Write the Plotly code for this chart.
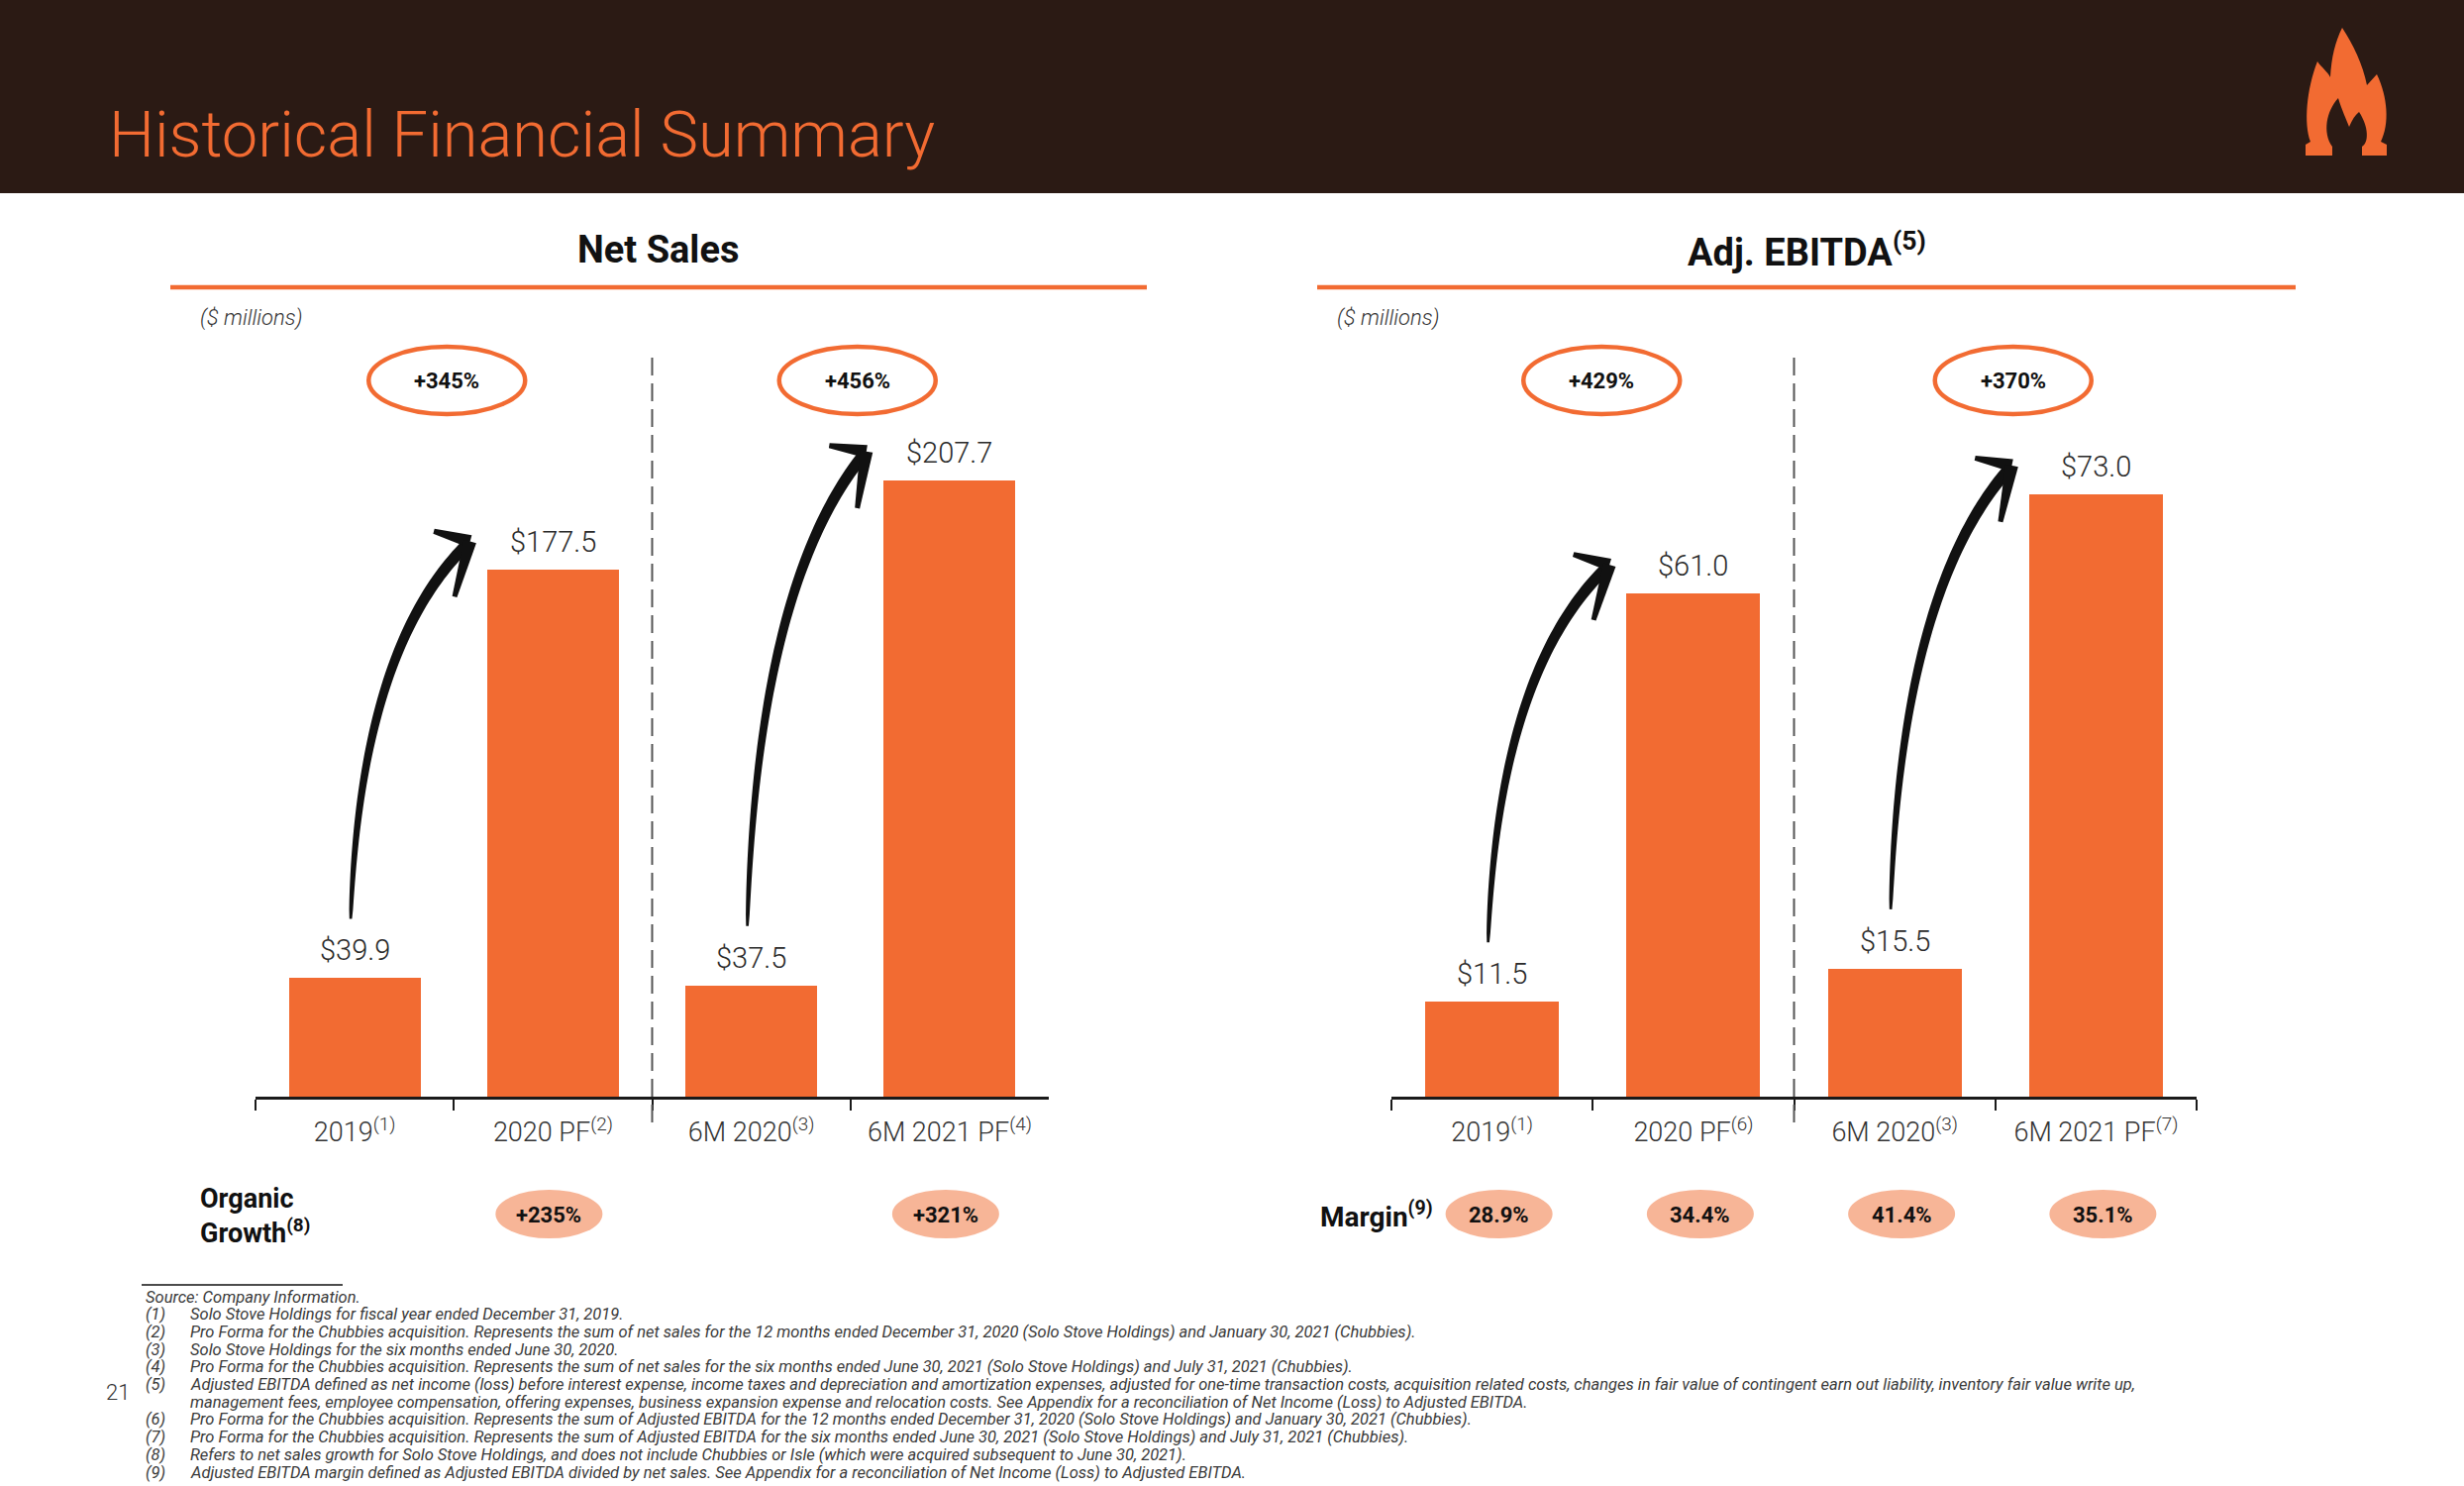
import numpy as np
import plotly.graph_objects as go

W, H = 2488, 1500

# ---------------- data ----------------
periods = ["2019", "2020 PF", "6M 2020", "6M 2021 PF"]
ns_notes = [1, 2, 3, 4]
eb_notes = [1, 6, 3, 7]
net_sales = [39.9, 177.5, 37.5, 207.7]
adj_ebitda = [11.5, 61.0, 15.5, 73.0]
ns_growth = [345, 456]          # 2019 -> 2020 PF, 6M 2020 -> 6M 2021 PF
eb_growth = [429, 370]
organic_growth = [None, 235, None, 321]
ebitda_margin = [28.9, 34.4, 41.4, 35.1]

footnotes = [
    ("", "Source: Company Information."),
    ("(1)", "Solo Stove Holdings for fiscal year ended December 31, 2019."),
    ("(2)", "Pro Forma for the Chubbies acquisition. Represents the sum of net sales for the 12 months ended December 31, 2020 (Solo Stove Holdings) and January 30, 2021 (Chubbies)."),
    ("(3)", "Solo Stove Holdings for the six months ended June 30, 2020."),
    ("(4)", "Pro Forma for the Chubbies acquisition. Represents the sum of net sales for the six months ended June 30, 2021 (Solo Stove Holdings) and July 31, 2021 (Chubbies)."),
    ("(5)", "Adjusted EBITDA defined as net income (loss) before interest expense, income taxes and depreciation and amortization expenses, adjusted for one-time transaction costs, acquisition related costs, changes in fair value of contingent earn out liability, inventory fair value write up,"),
    ("", "management fees, employee compensation, offering expenses, business expansion expense and relocation costs. See Appendix for a reconciliation of Net Income (Loss) to Adjusted EBITDA."),
    ("(6)", "Pro Forma for the Chubbies acquisition. Represents the sum of Adjusted EBITDA for the 12 months ended December 31, 2020 (Solo Stove Holdings) and January 30, 2021 (Chubbies)."),
    ("(7)", "Pro Forma for the Chubbies acquisition. Represents the sum of Adjusted EBITDA for the six months ended June 30, 2021 (Solo Stove Holdings) and July 31, 2021 (Chubbies)."),
    ("(8)", "Refers to net sales growth for Solo Stove Holdings, and does not include Chubbies or Isle (which were acquired subsequent to June 30, 2021)."),
    ("(9)", "Adjusted EBITDA margin defined as Adjusted EBITDA divided by net sales. See Appendix for a reconciliation of Net Income (Loss) to Adjusted EBITDA."),
]

ns_labels = [f"{p}<sup>({n})</sup>" for p, n in zip(periods, ns_notes)]
eb_labels = [f"{p}<sup>({n})</sup>" for p, n in zip(periods, eb_notes)]

# ---------------- style ----------------
FONT = "Roboto"
ORANGE = "#F26B32"
PILL = "#F7B597"
DARK = "#2B1A14"
GREY = "#333333"
AX = "#1A1A1A"

BASE, TOP = 1107, 359            # pixel rows of plot bottom / top
L_DOM = (258, 1059)
R_DOM = (1405, 2218)
NS_MAX, EB_MAX = 249.7, 89.8
BAR_W = 0.665


def X(p):
    return p / W


def Y(p):
    return 1 - p / H


def bar_geom(dom, ymax, i, v):
    cw = (dom[1] - dom[0]) / 4
    cx = dom[0] + (i + 0.5) * cw
    top = BASE - v / ymax * (BASE - TOP)
    return cx, top, cw * BAR_W / 2


def path_str(pts):
    return "M " + " L ".join(f"{X(x):.5f},{Y(y):.5f}" for x, y in pts) + " Z"


def arrow_shapes(p0, p2):
    x0, y0 = p0
    x2, y2 = p2
    dx, dy = x2 - x0, y0 - y2
    c = (x0 + 0.08 * dx, y0 - 0.72 * dy)
    t = np.linspace(0, 1, 60)
    bx = (1 - t) ** 2 * x0 + 2 * (1 - t) * t * c[0] + t ** 2 * x2
    by = (1 - t) ** 2 * y0 + 2 * (1 - t) * t * c[1] + t ** 2 * y2
    tx = 2 * (1 - t) * (c[0] - x0) + 2 * t * (x2 - c[0])
    ty = 2 * (1 - t) * (c[1] - y0) + 2 * t * (y2 - c[1])
    n = np.hypot(tx, ty)
    tx, ty = tx / n, ty / n
    nx, ny = -ty, tx
    hw = 1.3 + 4.6 * np.sqrt(t)
    left = list(zip(bx + nx * hw, by + ny * hw))
    right = list(zip(bx - nx * hw, by - ny * hw))[::-1]
    out = [path_str(left + right)]
    ux, uy = tx[-1], ty[-1]
    bxv, byv = -ux, -uy
    tipx, tipy = x2 + ux * 4, y2 + uy * 4
    for ang, L in [(60, 38), (-30, 58)]:
        a = np.radians(ang)
        vx = bxv * np.cos(a) - byv * np.sin(a)
        vy = bxv * np.sin(a) + byv * np.cos(a)
        px_, py_ = -vy, vx
        ex, ey = tipx + vx * L, tipy + vy * L
        out.append(path_str([
            (tipx + px_ * 6.5, tipy + py_ * 6.5),
            (ex + px_ * 2.5, ey + py_ * 2.5),
            (ex - px_ * 2.5, ey - py_ * 2.5),
            (tipx - px_ * 6.5, tipy - py_ * 6.5),
        ]))
    return out


def text(txt, x, y, size, xref="paper", yref="paper", xanchor="center", yanchor="middle",
         color="#111111", weight=400, style="normal", **kw):
    return dict(text=txt, x=x, y=y, xref=xref, yref=yref, xanchor=xanchor, yanchor=yanchor,
                showarrow=False, font=dict(family=FONT, size=size, color=color, weight=weight, style=style),
                **kw)


fig = go.Figure()
fig.add_trace(go.Bar(x=ns_labels, y=net_sales, width=BAR_W, marker=dict(color=ORANGE, line=dict(width=0)),
                     xaxis="x", yaxis="y", hoverinfo="skip", showlegend=False))
fig.add_trace(go.Bar(x=eb_labels, y=adj_ebitda, width=BAR_W, marker=dict(color=ORANGE, line=dict(width=0)),
                     xaxis="x2", yaxis="y2", hoverinfo="skip", showlegend=False))

xcommon = dict(type="category", tickson="boundaries", ticks="outside", ticklen=11, tickwidth=2,
               tickcolor=AX, showline=True, linecolor=AX, linewidth=2.5, showgrid=False, zeroline=False,
               tickfont=dict(family=FONT, size=27, color=GREY, weight=300), ticklabelstandoff=10,
               range=[-0.5, 3.5], fixedrange=True)
ydom = [Y(BASE), Y(TOP)]

shapes = []
ann = []

# header band
shapes.append(dict(type="rect", xref="paper", yref="paper", x0=0, x1=1, y0=Y(195), y1=1,
                   fillcolor=DARK, line=dict(width=0), layer="below"))
ann.append(text("Historical Financial Summary", X(108), Y(136), 65, xanchor="left",
                color=ORANGE, weight=300))

# flame logo (local pixel coords)
ox, oy = 2300, 20


def bez_path(segs):
    out = []
    for cmd, pts in segs:
        coords = " ".join(f"{X(ox + a):.5f},{Y(oy + b):.5f}" for a, b in pts)
        out.append(f"{cmd} {coords}")
    return " ".join(out) + " Z"


flame_outer = bez_path([
    ("M", [(28, 137)]), ("L", [(28, 126)]), ("L", [(33, 123)]),
    ("C", [(26, 105), (29, 70), (40, 42)]),
    ("C", [(44, 48), (50, 52), (53, 58)]),
    ("C", [(54, 38), (58, 22), (65, 8)]),
    ("C", [(76, 25), (86, 45), (90, 66)]),
    ("L", [(100, 55)]),
    ("C", [(111, 78), (113, 105), (104, 123)]),
    ("L", [(110, 126)]), ("L", [(110, 137)]),
])
flame_inner = bez_path([
    ("M", [(55, 137)]), ("L", [(55, 128)]),
    ("C", [(45, 114), (49, 92), (61, 79)]),
    ("C", [(65, 92), (69, 100), (72, 108)]),
    ("C", [(75, 101), (78, 96), (82, 93)]),
    ("C", [(92, 108), (92, 124), (85, 128)]),
    ("L", [(85, 137)]),
])
shapes.append(dict(type="path", xref="paper", yref="paper", path=flame_outer, fillcolor=ORANGE, line=dict(width=0)))
shapes.append(dict(type="path", xref="paper", yref="paper", path=flame_inner, fillcolor=DARK, line=dict(width=0)))

panels = [
    dict(title="Net Sales", center=664, rule=(172, 1158), unit_x=200, dom=L_DOM, ymax=NS_MAX,
         vals=net_sales, labels=ns_labels, growth=ns_growth, xa="x", ya="y", ell_dx=[-7, 7]),
    dict(title="Adj. EBITDA<sup>(5)</sup>", center=1824, rule=(1330, 2318), unit_x=1348, dom=R_DOM,
         ymax=EB_MAX, vals=adj_ebitda, labels=eb_labels, growth=eb_growth, xa="x2", ya="y2", ell_dx=[9, 18]),
]

for p in panels:
    ann.append(text(p["title"], X(p["center"]), Y(252), 38, weight=700))
    shapes.append(dict(type="line", xref="paper", yref="paper", x0=X(p["rule"][0]), x1=X(p["rule"][1]),
                       y0=Y(290), y1=Y(290), line=dict(color=ORANGE, width=4.5)))
    ann.append(text("($ millions)", X(p["unit_x"]), Y(321), 22, xanchor="left", color=GREY,
                    weight=300, style="italic"))
    # divider between annual and six-month periods
    shapes.append(dict(type="line", xref=p["xa"], yref="paper", x0=1.5, x1=1.5, y0=Y(1133), y1=Y(TOP),
                       line=dict(color="#555555", width=2, dash="18px,8px")))
    # value labels
    for lab, v in zip(p["labels"], p["vals"]):
        ann.append(text(f"${v:.1f}", lab, v, 29, xref=p["xa"], yref=p["ya"], yshift=28,
                        color="#2A2A2A", weight=300))
    # growth ellipses + arrows
    for k, g in enumerate(p["growth"]):
        i0, i1 = 2 * k, 2 * k + 1
        mid = (i0 + i1) / 2
        d = p["ell_dx"][k]
        shapes.append(dict(type="circle", xref=p["xa"], yref="paper", xsizemode="pixel", xanchor=mid,
                           x0=d - 79, x1=d + 79, y0=Y(418), y1=Y(350), line=dict(color=ORANGE, width=4.5)))
        ann.append(text(f"+{g}%", mid, Y(384), 22, xref=p["xa"], xshift=d, weight=700))
        cx0, top0, hw0 = bar_geom(p["dom"], p["ymax"], i0, p["vals"][i0])
        cx1, top1, hw1 = bar_geom(p["dom"], p["ymax"], i1, p["vals"][i1])
        for pth in arrow_shapes((cx0 - 4, top0 - 60), (cx1 - hw1 - 20, top1 - 26)):
            shapes.append(dict(type="path", xref="paper", yref="paper", path=pth,
                               fillcolor="#111111", line=dict(width=0)))

# Organic growth pills (net sales)
ann.append(text("Organic<br>Growth<sup>(8)</sup>", X(200), Y(1227), 27, xanchor="left", align="left",
                weight=700))
for lab, g in zip(ns_labels, organic_growth):
    if g is None:
        continue
    shapes.append(dict(type="circle", xref="x", yref="paper", xsizemode="pixel", xanchor=lab,
                       x0=-58, x1=50, y0=Y(1250), y1=Y(1201), fillcolor=PILL, line=dict(width=0)))
    ann.append(text(f"+{g}%", lab, Y(1226), 22, xref="x", xshift=-4, weight=700))

# Margin pills (EBITDA)
ann.append(text("Margin<sup>(9)</sup>", X(1331), Y(1226), 28, xanchor="left", weight=700))
for lab, m in zip(eb_labels, ebitda_margin):
    shapes.append(dict(type="circle", xref="x2", yref="paper", xsizemode="pixel", xanchor=lab,
                       x0=-47, x1=61, y0=Y(1250), y1=Y(1201), fillcolor=PILL, line=dict(width=0)))
    ann.append(text(f"{m:.1f}%", lab, Y(1226), 22, xref="x2", xshift=7, weight=700))

# footnotes
shapes.append(dict(type="line", xref="paper", yref="paper", x0=X(143), x1=X(346), y0=Y(1297), y1=Y(1297),
                   line=dict(color="#111111", width=1.5)))
FN_Y0, FN_DY = 1309, 17.7
for k, (num, txt) in enumerate(footnotes):
    yy = FN_Y0 + k * FN_DY
    if num:
        ann.append(text(num, X(145), Y(yy), 16.5, xanchor="left", color="#3A3A3A", style="italic"))
    ann.append(text(txt, X(145 if k == 0 else 190), Y(yy), 16.5, xanchor="left", color="#3A3A3A",
                    style="italic"))
ann.append(text("21", X(119), Y(1405), 22, color=GREY, weight=300))

fig.update_layout(
    width=W, height=H, autosize=False,
    margin=dict(l=0, r=0, t=0, b=0),
    paper_bgcolor="white", plot_bgcolor="rgba(0,0,0,0)",
    showlegend=False, bargap=0,
    xaxis=dict(domain=[X(L_DOM[0]), X(L_DOM[1])], anchor="y", **xcommon),
    yaxis=dict(domain=ydom, range=[0, NS_MAX], visible=False, anchor="x", fixedrange=True),
    xaxis2=dict(domain=[X(R_DOM[0]), X(R_DOM[1])], anchor="y2", **xcommon),
    yaxis2=dict(domain=ydom, range=[0, EB_MAX], visible=False, anchor="x2", fixedrange=True),
    shapes=shapes,
    annotations=ann,
    font=dict(family=FONT),
)

fig.write_html("out.html", config={"displayModeBar": False},
               post_script="document.body.style.margin='0';document.body.style.padding='0';")
